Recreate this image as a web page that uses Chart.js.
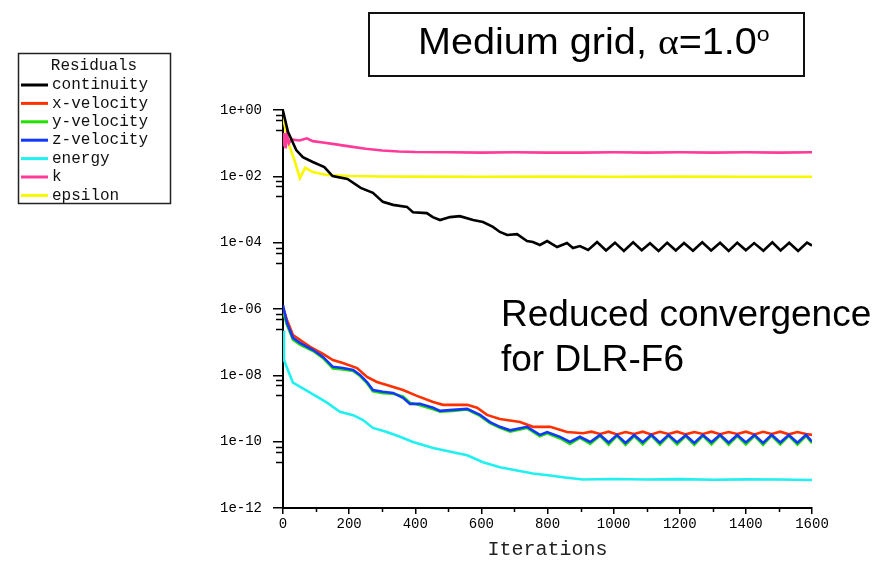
<!DOCTYPE html>
<html>
<head>
<meta charset="utf-8">
<script src="https://cdn.jsdelivr.net/npm/chart.js@4.4.1/dist/chart.umd.min.js"></script>
<style>
  body { margin: 0; background: #fff; }
  #wrap { position: relative; width: 892px; height: 574px; }
  #chart { position: absolute; left: 0; top: 0; }
  .note { position: absolute; font-family: 'Liberation Sans', Arial, sans-serif; color: #000; white-space: nowrap; }
  #titlebox { left: 368px; top: 12px; width: 437px; height: 65px; box-sizing: border-box;
    border: 2px solid #111; padding-left: 48px; font-size: 36px; line-height: 55px; }
  #titlebox .txt { display: inline-block; transform: scaleX(1.1); transform-origin: left center; }
  #titlebox .greek { font-family: 'Liberation Serif', 'Times New Roman', serif; }
  #titlebox .deg { font-size: 21px; position: relative; top: -13px; vertical-align: baseline; }
  #remark { left: 501px; top: 291px; font-size: 37px; line-height: 45px; }
</style>
</head>
<body>
<div id="wrap">
  <canvas id="chart" width="892" height="574"></canvas>
  <div class="note" id="titlebox"><span class="txt">Medium grid, <span class="greek">α</span>=1.0<span class="deg">o</span></span></div>
  <div class="note" id="remark">Reduced convergence<br>for DLR-F6</div>
</div>
<script>
const seriesNames = ['continuity', 'x-velocity', 'y-velocity', 'z-velocity', 'energy', 'k', 'epsilon']
const seriesColors = ['#000000', '#ff3000', '#22e000', '#1238ff', '#20f0f0', '#ff3a98', '#f8f800']

const contIter = [0, 15, 40, 60, 90, 125, 150, 195, 235, 272, 302, 333, 375, 393, 435, 453, 475, 505, 535, 575,
  605, 635, 656, 678, 708, 738, 756, 777, 799, 829, 859, 877, 898, 923, 950,
  977, 1004, 1031, 1059, 1085, 1110, 1136, 1162, 1188, 1213, 1240, 1268, 1295, 1322, 1348,
  1374, 1400, 1425, 1453, 1480, 1505, 1531, 1558, 1585, 1600]
const contVal = [0.95, 0.22, 0.062, 0.038, 0.027, 0.019, 0.0102, 0.0083, 0.0045, 0.0032,
  0.0017, 0.00138, 0.0012, 0.00083, 0.00078, 0.00059, 0.00048, 0.00059, 0.00063, 0.00048,
  0.00042, 0.0003, 0.00021, 0.00017, 0.00018, 1.12e-4, 1.05e-4, 8.5e-5, 1.12e-4, 7.4e-5,
  9.8e-5, 6.9e-5, 7.9e-5, 6.0e-5, 1.05e-4,
  5.8e-5, 1.0e-4, 5.6e-5, 1.02e-4, 5.9e-5, 9.6e-5, 5.6e-5, 1.0e-4, 5.8e-5, 9.8e-5,
  5.7e-5, 1.03e-4, 5.8e-5, 9.9e-5, 5.6e-5, 1.0e-4, 5.9e-5, 9.7e-5, 5.7e-5, 1.02e-4,
  5.8e-5, 9.9e-5, 5.6e-5, 1.0e-4, 8.2e-5]

const xVelIter = [0, 12, 30, 82, 121, 151, 181, 224, 254, 284, 324, 363, 405, 454, 484, 557, 587, 617, 656, 717,
  756, 808, 859, 907, 933, 959, 985, 1010, 1036, 1062, 1088, 1114, 1140, 1166,
  1192, 1218, 1244, 1270, 1296, 1322, 1348, 1374, 1400, 1426, 1452, 1478, 1504, 1530, 1556, 1582, 1600]
const xVelVal = [1.07e-6, 4.7e-7, 1.65e-7, 7.2e-8, 4.4e-8, 2.9e-8, 2.35e-8, 1.66e-8, 8.9e-9, 6.3e-9,
  4.8e-9, 3.6e-9, 2.4e-9, 1.58e-9, 1.29e-9, 1.29e-9, 1.05e-9, 6.4e-10, 4.8e-10, 3.9e-10,
  2.8e-10, 2.8e-10, 1.95e-10, 1.8e-10, 2.0e-10, 1.7e-10, 2.0e-10, 1.65e-10, 1.95e-10, 1.7e-10,
  2.0e-10, 1.65e-10, 1.98e-10, 1.7e-10, 2.0e-10, 1.66e-10, 1.95e-10, 1.7e-10, 2.0e-10, 1.68e-10,
  1.96e-10, 1.7e-10, 2.0e-10, 1.65e-10, 1.98e-10, 1.7e-10, 2.0e-10, 1.67e-10, 1.95e-10, 1.7e-10, 1.6e-10]

const velIter = [0, 12, 30, 51, 91, 121, 151, 181, 212, 233, 254, 272, 302, 333, 363, 384, 414, 454, 475, 514,
  557, 596, 626, 656, 687, 738, 777, 799, 838, 868, 898, 929, 959,
  985, 1010, 1036, 1062, 1088, 1114, 1140, 1166, 1192, 1218, 1244, 1270, 1296, 1322, 1348,
  1374, 1400, 1426, 1452, 1478, 1504, 1530, 1556, 1582, 1600]
const yVelVal = [8.5e-7, 3.3e-7, 1.2e-7, 8.5e-8, 5.4e-8, 3.3e-8, 1.6e-8, 1.5e-8, 1.35e-8, 9.5e-9,
  5.8e-9, 3.3e-9, 2.9e-9, 2.8e-9, 2.3e-9, 1.5e-9, 1.25e-9, 9.5e-10, 8.0e-10, 8.5e-10,
  9.3e-10, 6.0e-10, 3.6e-10, 2.6e-10, 2.0e-10, 2.6e-10, 1.45e-10, 1.8e-10, 1.25e-10, 8.5e-11,
  1.3e-10, 8.5e-11, 1.5e-10,
  8.2e-11, 1.5e-10, 8.0e-11, 1.48e-10, 8.3e-11, 1.52e-10, 8.1e-11, 1.5e-10, 8.2e-11, 1.47e-10,
  8.0e-11, 1.5e-10, 8.3e-11, 1.52e-10, 8.1e-11, 1.48e-10, 8.2e-11, 1.5e-10, 8.0e-11, 1.51e-10,
  8.2e-11, 1.49e-10, 8.1e-11, 1.5e-10, 9.0e-11]
const zVelVal = [1.3e-6, 3.8e-7, 1.35e-7, 9.5e-8, 5.8e-8, 3.6e-8, 1.8e-8, 1.66e-8, 1.45e-8, 1.03e-8,
  6.3e-9, 3.6e-9, 3.2e-9, 2.95e-9, 2.1e-9, 1.38e-9, 1.38e-9, 1.05e-9, 8.5e-10, 9.1e-10,
  9.7e-10, 6.4e-10, 3.9e-10, 2.8e-10, 2.2e-10, 2.8e-10, 1.6e-10, 1.95e-10, 1.4e-10, 9.8e-11,
  1.4e-10, 9.8e-11, 1.6e-10,
  9.5e-11, 1.6e-10, 9.2e-11, 1.58e-10, 9.6e-11, 1.62e-10, 9.3e-11, 1.6e-10, 9.5e-11, 1.57e-10,
  9.2e-11, 1.6e-10, 9.6e-11, 1.62e-10, 9.3e-11, 1.58e-10, 9.5e-11, 1.6e-10, 9.2e-11, 1.61e-10,
  9.4e-11, 1.59e-10, 9.3e-11, 1.6e-10, 1.0e-10]

const energyIter = [0, 3, 12, 30, 82, 133, 172, 212, 242, 272, 314, 354, 393, 454, 514, 557, 605, 656, 708, 756,
  808, 859, 907, 1000, 1100, 1200, 1300, 1400, 1500, 1600]
const energyVal = [2.2e-7, 2.9e-8, 1.7e-8, 6.0e-9, 3.0e-9, 1.5e-9, 8.0e-10, 6.3e-10, 4.5e-10, 2.6e-10,
  1.95e-10, 1.4e-10, 9.8e-11, 6.4e-11, 4.8e-11, 3.9e-11, 2.4e-11, 1.7e-11, 1.36e-11, 1.1e-11,
  9.5e-12, 8.2e-12, 7.2e-12, 7.5e-12, 7.2e-12, 7.4e-12, 7.1e-12, 7.3e-12, 7.2e-12, 7.0e-12]

const kIter = [0, 4, 8, 12, 18, 25, 50, 72, 90, 120, 150, 200, 250, 300, 350, 400, 500, 600, 700, 800,
  900, 1000, 1100, 1200, 1300, 1400, 1500, 1600]
const kVal = [0.08, 0.2, 0.07, 0.17, 0.1, 0.13, 0.12, 0.14, 0.115, 0.105,
  0.095, 0.08, 0.068, 0.06, 0.056, 0.054, 0.053, 0.052, 0.053, 0.052,
  0.052, 0.053, 0.052, 0.053, 0.052, 0.053, 0.052, 0.053]

const epsIter = [0, 5, 10, 20, 35, 51, 67, 90, 133, 203, 300, 400, 600, 800, 1000, 1200, 1400, 1600]
const epsVal = [0.6, 0.35, 0.2, 0.08, 0.03, 0.0088, 0.018, 0.0135, 0.011, 0.0102,
  0.0099, 0.0098, 0.0097, 0.0098, 0.0097, 0.0098, 0.0097, 0.0097]

const yTickValues = [1e-12, 1e-10, 1e-8, 1e-6, 1e-4, 1e-2, 1]
const yTickLabels = ['1e-12', '1e-10', '1e-08', '1e-06', '1e-04', '1e-02', '1e+00']
const yMinorFactors = [0.7, 0.5, 0.25]
const xMinorTicks = [100, 300, 500, 700, 900, 1100, 1300, 1500]

const seriesIters = [contIter, xVelIter, velIter, velIter, energyIter, kIter, epsIter]
const seriesVals = [contVal, xVelVal, yVelVal, zVelVal, energyVal, kVal, epsVal]
const drawOrder = [0, 2, 3, 1, 4, 5, 6]

const monoFont = "'Liberation Mono', 'DejaVu Sans Mono', monospace"

const datasets = seriesNames.map((name, i) => ({
  label: name,
  data: seriesIters[i].map((it, j) => ({x: it, y: seriesVals[i][j]})),
  borderColor: seriesColors[i],
  backgroundColor: seriesColors[i],
  borderWidth: 2.6,
  pointRadius: 0,
  tension: 0,
  fill: false,
  order: drawOrder[i]
}))

const minorTicks = {
  id: 'minorTicks',
  afterDraw(chart) {
    const ctx = chart.ctx
    const xs = chart.scales.x, ys = chart.scales.y
    const area = chart.chartArea
    ctx.save()
    ctx.strokeStyle = '#000'
    ctx.lineWidth = 1.5
    ctx.beginPath()
    yTickValues.forEach(d => {
      yMinorFactors.forEach(f => {
        const v = d * f
        if (v < ys.min) return
        const y = Math.round(ys.getPixelForValue(v)) + 0.5
        ctx.moveTo(area.left - 7, y)
        ctx.lineTo(area.left, y)
      })
    })
    xMinorTicks.forEach(v => {
      const x = Math.round(xs.getPixelForValue(v)) + 0.5
      ctx.moveTo(x, area.bottom)
      ctx.lineTo(x, area.bottom + 4)
    })
    ctx.stroke()
    ctx.restore()
  }
}

const boxLegend = {
  id: 'boxLegend',
  afterDraw(chart) {
    const ctx = chart.ctx
    ctx.save()
    ctx.strokeStyle = '#222'
    ctx.lineWidth = 1.5
    ctx.strokeRect(18.5, 53.5, 152, 150)
    ctx.fillStyle = '#111'
    ctx.font = `16px ${monoFont}`
    ctx.textBaseline = 'middle'
    ctx.textAlign = 'center'
    ctx.fillText('Residuals', 94, 66)
    ctx.textAlign = 'left'
    chart.data.datasets.forEach((ds, i) => {
      const y = 85 + i * 18.4
      ctx.strokeStyle = ds.borderColor
      ctx.lineWidth = 3
      ctx.beginPath()
      ctx.moveTo(21, y)
      ctx.lineTo(48, y)
      ctx.stroke()
      ctx.fillText(ds.label, 52, y)
    })
    ctx.restore()
  }
}

new Chart(document.getElementById('chart'), {
  type: 'line',
  data: {datasets},
  options: {
    responsive: false,
    animation: false,
    layout: {padding: {left: 0, top: 110, right: 80, bottom: 0}},
    plugins: {legend: {display: false}, tooltip: {enabled: false}},
    scales: {
      x: {
        type: 'linear',
        min: 0,
        max: 1600,
        afterFit: s => { s.height = 66 },
        ticks: {
          stepSize: 200, color: '#000', font: {family: monoFont, size: 14}, padding: 2, maxRotation: 0,
          callback: v => String(v)
        },
        grid: {drawOnChartArea: false, drawTicks: true, tickLength: 6, color: '#000', lineWidth: 1.5},
        border: {display: true, color: '#000', width: 2},
        title: {display: true, text: 'Iterations', color: '#222', font: {family: monoFont, size: 20}, padding: {top: 0, bottom: 12}}
      },
      y: {
        type: 'logarithmic',
        min: 1e-12,
        max: 1,
        afterFit: s => { s.width = 283 },
        afterBuildTicks: s => { s.ticks = yTickValues.map(v => ({value: v})) },
        ticks: {
          color: '#000',
          font: {family: monoFont, size: 14},
          padding: 11,
          callback: (v, i) => yTickLabels[i]
        },
        grid: {drawOnChartArea: false, drawTicks: true, tickLength: 10, color: '#000', lineWidth: 1.5},
        border: {display: true, color: '#000', width: 2}
      }
    }
  },
  plugins: [minorTicks, boxLegend]
})
</script>
</body>
</html>
